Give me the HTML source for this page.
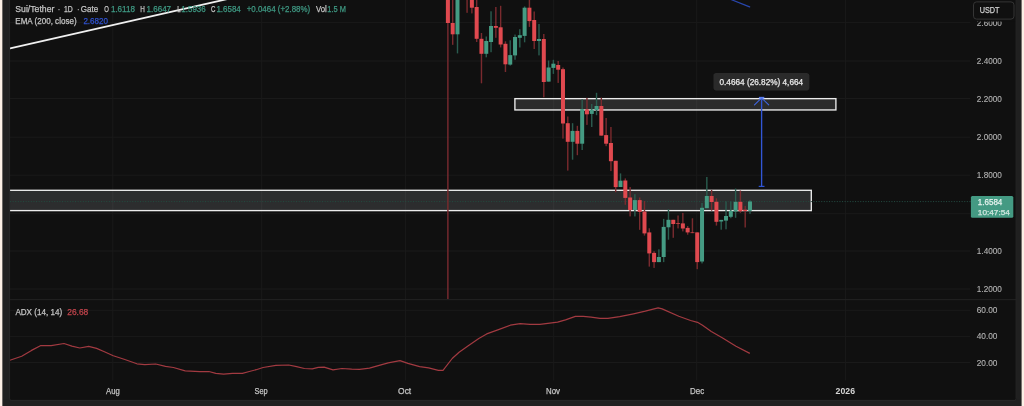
<!DOCTYPE html>
<html><head><meta charset="utf-8"><title>SUI chart</title>
<style>html,body{margin:0;padding:0;background:#101010;overflow:hidden}svg{display:block;will-change:transform}text{font-family:"Liberation Sans",sans-serif}</style></head><body>
<svg width="1024" height="406" viewBox="0 0 1024 406">
<rect x="0" y="0" width="1024" height="406" fill="#101010"/>
<rect x="10" y="21.9" width="960.3" height="1" fill="#1a1a1a"/>
<rect x="10" y="60.5" width="960.3" height="1" fill="#1a1a1a"/>
<rect x="10" y="98.0" width="960.3" height="1" fill="#1a1a1a"/>
<rect x="10" y="136.7" width="960.3" height="1" fill="#1a1a1a"/>
<rect x="10" y="174.7" width="960.3" height="1" fill="#1a1a1a"/>
<rect x="10" y="213.2" width="960.3" height="1" fill="#1a1a1a"/>
<rect x="10" y="250.5" width="960.3" height="1" fill="#1a1a1a"/>
<rect x="10" y="288.5" width="960.3" height="1" fill="#1a1a1a"/>
<rect x="10" y="309.8" width="960.3" height="1" fill="#1a1a1a"/>
<rect x="10" y="335.9" width="960.3" height="1" fill="#1a1a1a"/>
<rect x="10" y="362.0" width="960.3" height="1" fill="#1a1a1a"/>
<rect x="112.3" y="0" width="1" height="380.5" fill="#1a1a1a"/>
<rect x="261.2" y="0" width="1" height="380.5" fill="#1a1a1a"/>
<rect x="404.9" y="0" width="1" height="380.5" fill="#1a1a1a"/>
<rect x="553.2" y="0" width="1" height="380.5" fill="#1a1a1a"/>
<rect x="696.2" y="0" width="1" height="380.5" fill="#1a1a1a"/>
<rect x="844.9" y="0" width="1" height="380.5" fill="#1a1a1a"/>
<rect x="10" y="299.1" width="1006.3" height="1.1" fill="#222222"/>
<defs><filter id="bl" x="-5%" y="-5%" width="110%" height="110%"><feGaussianBlur stdDeviation="0.35"/></filter><clipPath id="cp"><rect x="10" y="0" width="1006" height="299"/></clipPath></defs>
<g clip-path="url(#cp)"><g filter="url(#bl)">
<rect x="0" y="190.3" width="811.3" height="20.3" fill="#e4ecf6" fill-opacity="0.128" stroke="#ececec" stroke-width="1.35"/>
<rect x="514.9" y="98.65" width="321.0" height="11.3" fill="#ffffff" fill-opacity="0.112" stroke="#ececec" stroke-width="1.35"/>
<line x1="10" y1="201.6" x2="971" y2="201.6" stroke="#24493f" stroke-width="1" stroke-dasharray="1.1 1.5"/>
<line x1="9" y1="48.56" x2="227" y2="-0.82" stroke="#f0f0f0" stroke-width="1.75"/>
<line x1="731" y1="-0.5" x2="749.6" y2="6.9" stroke="#2846ae" stroke-width="1.3" stroke-linecap="round"/>
<rect x="447.20" y="-5.0" width="1.4" height="304.4" fill="#7a2a2e"/>
<rect x="452.00" y="-5.0" width="1.4" height="49.8" fill="#7a2a2e"/>
<rect x="456.79" y="-5.0" width="1.4" height="58.4" fill="#2a5c4f"/>
<rect x="466.38" y="-5.0" width="1.4" height="17.8" fill="#7a2a2e"/>
<rect x="471.18" y="-5.0" width="1.4" height="18.4" fill="#7a2a2e"/>
<rect x="475.97" y="-5.0" width="1.4" height="47.0" fill="#7a2a2e"/>
<rect x="480.76" y="33.0" width="1.4" height="50.3" fill="#7a2a2e"/>
<rect x="485.56" y="36.5" width="1.4" height="20.8" fill="#2a5c4f"/>
<rect x="490.35" y="11.3" width="1.4" height="40.9" fill="#2a5c4f"/>
<rect x="495.15" y="7.0" width="1.4" height="30.8" fill="#7a2a2e"/>
<rect x="499.94" y="5.8" width="1.4" height="41.6" fill="#7a2a2e"/>
<rect x="504.74" y="41.3" width="1.4" height="30.7" fill="#7a2a2e"/>
<rect x="509.53" y="40.3" width="1.4" height="25.3" fill="#2a5c4f"/>
<rect x="514.33" y="34.6" width="1.4" height="25.2" fill="#2a5c4f"/>
<rect x="519.12" y="29.2" width="1.4" height="18.3" fill="#2a5c4f"/>
<rect x="523.92" y="6.4" width="1.4" height="35.9" fill="#2a5c4f"/>
<rect x="528.71" y="-5.0" width="1.4" height="31.9" fill="#7a2a2e"/>
<rect x="533.51" y="11.5" width="1.4" height="37.5" fill="#7a2a2e"/>
<rect x="538.30" y="24.0" width="1.4" height="31.4" fill="#2a5c4f"/>
<rect x="543.10" y="34.0" width="1.4" height="63.3" fill="#7a2a2e"/>
<rect x="547.89" y="60.5" width="1.4" height="21.1" fill="#2a5c4f"/>
<rect x="552.69" y="59.8" width="1.4" height="14.1" fill="#2a5c4f"/>
<rect x="557.48" y="61.0" width="1.4" height="21.9" fill="#7a2a2e"/>
<rect x="562.28" y="67.5" width="1.4" height="71.1" fill="#7a2a2e"/>
<rect x="567.07" y="116.5" width="1.4" height="54.1" fill="#7a2a2e"/>
<rect x="571.87" y="123.2" width="1.4" height="36.5" fill="#2a5c4f"/>
<rect x="576.66" y="125.8" width="1.4" height="29.4" fill="#7a2a2e"/>
<rect x="581.46" y="99.2" width="1.4" height="50.8" fill="#2a5c4f"/>
<rect x="586.25" y="97.9" width="1.4" height="27.0" fill="#7a2a2e"/>
<rect x="591.05" y="104.0" width="1.4" height="23.0" fill="#2a5c4f"/>
<rect x="595.84" y="92.8" width="1.4" height="22.4" fill="#2a5c4f"/>
<rect x="600.64" y="97.7" width="1.4" height="37.9" fill="#7a2a2e"/>
<rect x="605.43" y="118.0" width="1.4" height="28.2" fill="#7a2a2e"/>
<rect x="610.23" y="127.0" width="1.4" height="44.1" fill="#7a2a2e"/>
<rect x="615.02" y="160.8" width="1.4" height="31.4" fill="#7a2a2e"/>
<rect x="619.82" y="173.4" width="1.4" height="13.6" fill="#2a5c4f"/>
<rect x="624.61" y="178.4" width="1.4" height="26.4" fill="#7a2a2e"/>
<rect x="629.41" y="187.0" width="1.4" height="29.4" fill="#7a2a2e"/>
<rect x="634.20" y="194.2" width="1.4" height="22.2" fill="#2a5c4f"/>
<rect x="639.00" y="197.5" width="1.4" height="32.3" fill="#7a2a2e"/>
<rect x="643.79" y="201.0" width="1.4" height="34.6" fill="#7a2a2e"/>
<rect x="648.59" y="228.3" width="1.4" height="38.3" fill="#7a2a2e"/>
<rect x="653.38" y="251.2" width="1.4" height="16.7" fill="#7a2a2e"/>
<rect x="658.18" y="249.3" width="1.4" height="12.8" fill="#2a5c4f"/>
<rect x="662.97" y="218.9" width="1.4" height="43.2" fill="#2a5c4f"/>
<rect x="667.77" y="209.3" width="1.4" height="30.4" fill="#2a5c4f"/>
<rect x="672.56" y="219.8" width="1.4" height="18.0" fill="#7a2a2e"/>
<rect x="677.36" y="215.5" width="1.4" height="12.9" fill="#7a2a2e"/>
<rect x="682.15" y="212.9" width="1.4" height="18.5" fill="#7a2a2e"/>
<rect x="686.95" y="226.0" width="1.4" height="8.7" fill="#7a2a2e"/>
<rect x="691.74" y="218.3" width="1.4" height="14.8" fill="#7a2a2e"/>
<rect x="696.54" y="232.4" width="1.4" height="36.8" fill="#7a2a2e"/>
<rect x="701.33" y="202.9" width="1.4" height="60.5" fill="#2a5c4f"/>
<rect x="706.13" y="177.0" width="1.4" height="31.2" fill="#2a5c4f"/>
<rect x="710.92" y="189.9" width="1.4" height="20.8" fill="#7a2a2e"/>
<rect x="715.72" y="198.3" width="1.4" height="27.3" fill="#7a2a2e"/>
<rect x="720.51" y="219.9" width="1.4" height="9.8" fill="#2a5c4f"/>
<rect x="725.31" y="201.4" width="1.4" height="27.9" fill="#2a5c4f"/>
<rect x="730.10" y="201.4" width="1.4" height="16.8" fill="#2a5c4f"/>
<rect x="734.90" y="188.6" width="1.4" height="29.2" fill="#2a5c4f"/>
<rect x="739.69" y="190.5" width="1.4" height="22.3" fill="#7a2a2e"/>
<rect x="744.49" y="205.9" width="1.4" height="21.6" fill="#7a2a2e"/>
<rect x="749.28" y="200.1" width="1.4" height="13.7" fill="#2a5c4f"/>
<rect x="445.90" y="-5.0" width="4.0" height="28.0" fill="#e0494f"/>
<rect x="450.69" y="23.0" width="4.0" height="11.3" fill="#e0494f"/>
<rect x="455.49" y="-5.0" width="4.0" height="39.3" fill="#449b83"/>
<rect x="469.88" y="-5.0" width="4.0" height="12.7" fill="#e0494f"/>
<rect x="474.67" y="7.0" width="4.0" height="31.8" fill="#e0494f"/>
<rect x="479.46" y="38.8" width="4.0" height="15.0" fill="#e0494f"/>
<rect x="484.26" y="41.0" width="4.0" height="12.8" fill="#449b83"/>
<rect x="489.05" y="26.0" width="4.0" height="16.0" fill="#449b83"/>
<rect x="493.85" y="26.0" width="4.0" height="1.8" fill="#e0494f"/>
<rect x="498.64" y="27.3" width="4.0" height="17.2" fill="#e0494f"/>
<rect x="503.44" y="43.8" width="4.0" height="20.5" fill="#e0494f"/>
<rect x="508.23" y="55.1" width="4.0" height="9.5" fill="#449b83"/>
<rect x="513.03" y="37.0" width="4.0" height="18.4" fill="#449b83"/>
<rect x="517.82" y="35.2" width="4.0" height="2.6" fill="#449b83"/>
<rect x="522.62" y="7.7" width="4.0" height="28.2" fill="#449b83"/>
<rect x="527.41" y="7.7" width="4.0" height="13.4" fill="#e0494f"/>
<rect x="532.21" y="20.0" width="4.0" height="21.0" fill="#e0494f"/>
<rect x="537.00" y="39.0" width="4.0" height="2.0" fill="#449b83"/>
<rect x="541.80" y="39.0" width="4.0" height="43.0" fill="#e0494f"/>
<rect x="546.60" y="67.5" width="4.0" height="14.1" fill="#449b83"/>
<rect x="551.39" y="63.7" width="4.0" height="4.2" fill="#449b83"/>
<rect x="556.18" y="65.0" width="4.0" height="4.7" fill="#e0494f"/>
<rect x="560.98" y="69.2" width="4.0" height="54.3" fill="#e0494f"/>
<rect x="565.77" y="123.2" width="4.0" height="18.6" fill="#e0494f"/>
<rect x="570.57" y="130.9" width="4.0" height="10.9" fill="#449b83"/>
<rect x="575.37" y="130.9" width="4.0" height="12.8" fill="#e0494f"/>
<rect x="580.16" y="109.2" width="4.0" height="34.5" fill="#449b83"/>
<rect x="584.95" y="109.4" width="4.0" height="4.9" fill="#e0494f"/>
<rect x="589.75" y="109.7" width="4.0" height="4.2" fill="#449b83"/>
<rect x="594.54" y="106.0" width="4.0" height="4.0" fill="#449b83"/>
<rect x="599.34" y="106.0" width="4.0" height="29.6" fill="#e0494f"/>
<rect x="604.13" y="135.1" width="4.0" height="8.6" fill="#e0494f"/>
<rect x="608.93" y="143.0" width="4.0" height="18.2" fill="#e0494f"/>
<rect x="613.72" y="160.8" width="4.0" height="26.3" fill="#e0494f"/>
<rect x="618.52" y="180.7" width="4.0" height="6.3" fill="#449b83"/>
<rect x="623.31" y="180.5" width="4.0" height="17.4" fill="#e0494f"/>
<rect x="628.11" y="197.5" width="4.0" height="12.5" fill="#e0494f"/>
<rect x="632.90" y="200.1" width="4.0" height="9.9" fill="#449b83"/>
<rect x="637.70" y="200.1" width="4.0" height="11.8" fill="#e0494f"/>
<rect x="642.50" y="211.6" width="4.0" height="21.8" fill="#e0494f"/>
<rect x="647.29" y="232.4" width="4.0" height="21.0" fill="#e0494f"/>
<rect x="652.09" y="252.9" width="4.0" height="9.2" fill="#e0494f"/>
<rect x="656.88" y="257.0" width="4.0" height="5.1" fill="#449b83"/>
<rect x="661.67" y="226.9" width="4.0" height="30.1" fill="#449b83"/>
<rect x="666.47" y="219.8" width="4.0" height="7.5" fill="#449b83"/>
<rect x="671.26" y="219.8" width="4.0" height="4.2" fill="#e0494f"/>
<rect x="676.06" y="223.2" width="4.0" height="0.7" fill="#e0494f"/>
<rect x="680.86" y="223.4" width="4.0" height="5.1" fill="#e0494f"/>
<rect x="685.65" y="227.9" width="4.0" height="4.5" fill="#e0494f"/>
<rect x="690.44" y="232.4" width="4.0" height="0.7" fill="#e0494f"/>
<rect x="695.24" y="232.4" width="4.0" height="29.7" fill="#e0494f"/>
<rect x="700.03" y="207.8" width="4.0" height="53.7" fill="#449b83"/>
<rect x="704.83" y="196.0" width="4.0" height="12.2" fill="#449b83"/>
<rect x="709.62" y="196.0" width="4.0" height="6.0" fill="#e0494f"/>
<rect x="714.42" y="201.8" width="4.0" height="20.0" fill="#e0494f"/>
<rect x="719.21" y="219.9" width="4.0" height="1.6" fill="#449b83"/>
<rect x="724.01" y="216.0" width="4.0" height="4.6" fill="#449b83"/>
<rect x="728.80" y="210.8" width="4.0" height="6.0" fill="#449b83"/>
<rect x="733.60" y="201.8" width="4.0" height="9.7" fill="#449b83"/>
<rect x="738.39" y="201.8" width="4.0" height="9.4" fill="#e0494f"/>
<rect x="743.19" y="209.8" width="4.0" height="1.2" fill="#e0494f"/>
<rect x="747.98" y="201.5" width="4.0" height="9.2" fill="#449b83"/>
<line x1="761.6" y1="97.6" x2="761.6" y2="186.4" stroke="#3156d6" stroke-width="1.35"/>
<line x1="758.7" y1="186.4" x2="764.5" y2="186.4" stroke="#2f55d4" stroke-width="1.2"/>
<polyline points="754.5,104.8 761.6,97.9 768.7,104.8" fill="none" stroke="#3f66e2" stroke-width="1.1" stroke-linecap="round"/>
<line x1="758.9" y1="97.7" x2="764.3" y2="97.7" stroke="#5c7ef0" stroke-width="1.7"/>
<rect x="713.4" y="73" width="96" height="17.4" rx="3" fill="#2a2a2a"/>
<text x="719.5" y="84.9" font-size="8.9" fill="#ececec" stroke="#ececec" stroke-width="0.25" textLength="83.6" lengthAdjust="spacingAndGlyphs">0.4664 (26.82%) 4,664</text>
</g></g>
<polyline points="9.9,360.2 21.7,356.3 31.5,350.4 40.4,345.7 51.2,345.7 64,343.5 71.9,346.1 79.8,348 88.7,346.3 96.6,348.4 104.4,351.8 113.3,355.7 124.1,359.3 136.9,363.8 144.8,364.6 155.7,364 165.5,366.4 173.4,367.5 185.2,370.9 200,371.7 208.9,371.5 215.8,373.4 223.6,374.2 232.5,373.4 242.4,373.3 249.3,371.5 256.2,369.7 263.1,367.5 275.9,365.4 288.7,365 296.6,366.7 304.4,368.5 312.3,368.9 318.2,367.3 324.1,367.1 333,369.9 341.9,368.5 351.7,369.1 359.6,369.3 369.5,368.1 378.3,365.6 388.2,362.8 400,360.6 407.9,363.4 419.7,366.6 428.6,367.8 438.4,370.3 443,370.3 452.2,358.5 459.1,352.2 469,345.3 478.8,338.4 486.7,333.9 498.5,329.6 510.3,325.2 520.2,323.6 530,324.4 539.9,324.4 549.8,323.1 557.6,322.1 565.5,319.9 575.4,316.4 583.3,316.4 591.1,317.1 600,318.3 607.9,318.3 619.7,316.6 633.5,313.8 645.3,311.2 658.1,307.9 662.1,308.9 678.8,316.2 690.6,320.5 697.5,322.3 702.5,325.2 711.3,331.5 722.2,337.8 736,346.3 749.8,353.4" fill="none" stroke="#a23a41" stroke-width="1.2" stroke-linejoin="round"/>
<text x="15.3" y="12.4" font-size="8.9" fill="#c4c4c4" stroke="#c4c4c4" stroke-width="0.25" textLength="39.1" lengthAdjust="spacingAndGlyphs">Sui/Tether</text>
<text x="58.0" y="12.4" font-size="8.9" fill="#c4c4c4" stroke="#c4c4c4" stroke-width="0.25" textLength="2.0" lengthAdjust="spacingAndGlyphs">·</text>
<text x="64.0" y="12.4" font-size="8.9" fill="#c4c4c4" stroke="#c4c4c4" stroke-width="0.25" textLength="8.8" lengthAdjust="spacingAndGlyphs">1D</text>
<text x="77.3" y="12.4" font-size="8.9" fill="#c4c4c4" stroke="#c4c4c4" stroke-width="0.25" textLength="2.0" lengthAdjust="spacingAndGlyphs">·</text>
<text x="80.8" y="12.4" font-size="8.9" fill="#c4c4c4" stroke="#c4c4c4" stroke-width="0.25" textLength="17.4" lengthAdjust="spacingAndGlyphs">Gate</text>
<text x="104.2" y="12.4" font-size="8.9" fill="#c4c4c4" stroke="#c4c4c4" stroke-width="0.25" textLength="4.6" lengthAdjust="spacingAndGlyphs">O</text>
<text x="110.9" y="12.4" font-size="8.9" fill="#3f9a84" stroke="#3f9a84" stroke-width="0.25" textLength="24.1" lengthAdjust="spacingAndGlyphs">1.6118</text>
<text x="140.2" y="12.4" font-size="8.9" fill="#c4c4c4" stroke="#c4c4c4" stroke-width="0.25" textLength="4.6" lengthAdjust="spacingAndGlyphs">H</text>
<text x="146.5" y="12.4" font-size="8.9" fill="#3f9a84" stroke="#3f9a84" stroke-width="0.25" textLength="24.6" lengthAdjust="spacingAndGlyphs">1.6647</text>
<text x="177.3" y="12.4" font-size="8.9" fill="#c4c4c4" stroke="#c4c4c4" stroke-width="0.25" textLength="3.4" lengthAdjust="spacingAndGlyphs">L</text>
<text x="181.3" y="12.4" font-size="8.9" fill="#3f9a84" stroke="#3f9a84" stroke-width="0.25" textLength="24.4" lengthAdjust="spacingAndGlyphs">1.5936</text>
<text x="210.9" y="12.4" font-size="8.9" fill="#c4c4c4" stroke="#c4c4c4" stroke-width="0.25" textLength="4.4" lengthAdjust="spacingAndGlyphs">C</text>
<text x="216.4" y="12.4" font-size="8.9" fill="#3f9a84" stroke="#3f9a84" stroke-width="0.25" textLength="24.4" lengthAdjust="spacingAndGlyphs">1.6584</text>
<text x="246.7" y="12.4" font-size="8.9" fill="#3f9a84" stroke="#3f9a84" stroke-width="0.25" textLength="63.5" lengthAdjust="spacingAndGlyphs">+0.0464 (+2.88%)</text>
<text x="316" y="12.4" font-size="8.9" fill="#c4c4c4" stroke="#c4c4c4" stroke-width="0.25" textLength="10.8" lengthAdjust="spacingAndGlyphs">Vol</text>
<text x="327.3" y="12.4" font-size="8.9" fill="#3f9a84" stroke="#3f9a84" stroke-width="0.25" textLength="18.6" lengthAdjust="spacingAndGlyphs">1.5 M</text>
<text x="15.3" y="24.1" font-size="8.9" fill="#c4c4c4" stroke="#c4c4c4" stroke-width="0.25" textLength="61.3" lengthAdjust="spacingAndGlyphs">EMA (200, close)</text>
<text x="83.4" y="24.1" font-size="8.9" fill="#2f52d0" stroke="#2f52d0" stroke-width="0.25" textLength="24.6" lengthAdjust="spacingAndGlyphs">2.6820</text>
<text x="15.4" y="314.6" font-size="8.9" fill="#c4c4c4" stroke="#c4c4c4" stroke-width="0.25" textLength="46.7" lengthAdjust="spacingAndGlyphs">ADX (14, 14)</text>
<text x="67.2" y="314.6" font-size="8.9" fill="#c2444c" stroke="#c2444c" stroke-width="0.25" textLength="21.1" lengthAdjust="spacingAndGlyphs">26.68</text>
<text x="976.8" y="25.7" font-size="9.2" fill="#b4b4b4" stroke="#b4b4b4" stroke-width="0.12" textLength="25.1" lengthAdjust="spacingAndGlyphs">2.6000</text>
<text x="976.8" y="63.8" font-size="9.2" fill="#b4b4b4" stroke="#b4b4b4" stroke-width="0.12" textLength="25.1" lengthAdjust="spacingAndGlyphs">2.4000</text>
<text x="976.8" y="101.9" font-size="9.2" fill="#b4b4b4" stroke="#b4b4b4" stroke-width="0.12" textLength="25.1" lengthAdjust="spacingAndGlyphs">2.2000</text>
<text x="976.8" y="140.0" font-size="9.2" fill="#b4b4b4" stroke="#b4b4b4" stroke-width="0.12" textLength="25.1" lengthAdjust="spacingAndGlyphs">2.0000</text>
<text x="976.8" y="178.1" font-size="9.2" fill="#b4b4b4" stroke="#b4b4b4" stroke-width="0.12" textLength="25.1" lengthAdjust="spacingAndGlyphs">1.8000</text>
<text x="976.8" y="254.1" font-size="9.2" fill="#b4b4b4" stroke="#b4b4b4" stroke-width="0.12" textLength="25.1" lengthAdjust="spacingAndGlyphs">1.4000</text>
<text x="976.8" y="292.2" font-size="9.2" fill="#b4b4b4" stroke="#b4b4b4" stroke-width="0.12" textLength="25.1" lengthAdjust="spacingAndGlyphs">1.2000</text>
<text x="976.7" y="313.2" font-size="9.2" fill="#b4b4b4" stroke="#b4b4b4" stroke-width="0.12" textLength="20.8" lengthAdjust="spacingAndGlyphs">60.00</text>
<text x="976.7" y="339.4" font-size="9.2" fill="#b4b4b4" stroke="#b4b4b4" stroke-width="0.12" textLength="20.8" lengthAdjust="spacingAndGlyphs">40.00</text>
<text x="976.7" y="365.6" font-size="9.2" fill="#b4b4b4" stroke="#b4b4b4" stroke-width="0.12" textLength="20.8" lengthAdjust="spacingAndGlyphs">20.00</text>
<rect x="972" y="0" width="44" height="21.6" fill="#101010"/>
<rect x="973.5" y="1.9" width="40.5" height="17.2" rx="3" fill="#101010" stroke="#353535" stroke-width="1"/>
<text x="979.7" y="13.1" font-size="9.0" fill="#d0d0d0" stroke="#d0d0d0" stroke-width="0.25" textLength="19.8" lengthAdjust="spacingAndGlyphs">USDT</text>
<rect x="970.9" y="195.9" width="42.4" height="21.9" rx="1.5" fill="#449a83"/>
<text x="977.8" y="204.9" font-size="8.6" fill="#e6f3ef" stroke="#e6f3ef" stroke-width="0.25" textLength="24.5" lengthAdjust="spacingAndGlyphs">1.6584</text>
<text x="977.8" y="214.7" font-size="8.0" fill="#cfe6df" stroke="#cfe6df" stroke-width="0.25" textLength="32.1" lengthAdjust="spacingAndGlyphs">10:47:54</text>
<text x="106.0" y="394" font-size="8.6" fill="#c4c4c4" stroke="#c4c4c4" stroke-width="0.25" textLength="13.7" lengthAdjust="spacingAndGlyphs">Aug</text>
<text x="254.5" y="394" font-size="8.6" fill="#c4c4c4" stroke="#c4c4c4" stroke-width="0.25" textLength="13.2" lengthAdjust="spacingAndGlyphs">Sep</text>
<text x="398.1" y="394" font-size="8.6" fill="#c4c4c4" stroke="#c4c4c4" stroke-width="0.25" textLength="13.1" lengthAdjust="spacingAndGlyphs">Oct</text>
<text x="546.0" y="394" font-size="8.6" fill="#c4c4c4" stroke="#c4c4c4" stroke-width="0.25" textLength="14.0" lengthAdjust="spacingAndGlyphs">Nov</text>
<text x="690.1" y="394" font-size="8.6" fill="#c4c4c4" stroke="#c4c4c4" stroke-width="0.25" textLength="14.1" lengthAdjust="spacingAndGlyphs">Dec</text>
<text x="835.6" y="394" font-size="8.6" fill="#d4d4d4" stroke="#d4d4d4" stroke-width="0" textLength="19.4" lengthAdjust="spacingAndGlyphs" font-weight="bold">2026</text>
<rect x="0" y="0" width="10" height="406" fill="#202020"/>
<rect x="1016.3" y="0" width="8" height="406" fill="#202020"/>
<rect x="0" y="399.8" width="1024" height="7" fill="#202020"/>
<rect x="9.6" y="-3" width="1006.5" height="403.6" rx="2" fill="none" stroke="#282828" stroke-width="0.9"/>
<rect x="0" y="0" width="2.35" height="406" fill="#fcefe5"/>
<rect x="1021.6" y="0" width="3" height="406" fill="#fcefe5"/>
</svg></body></html>
